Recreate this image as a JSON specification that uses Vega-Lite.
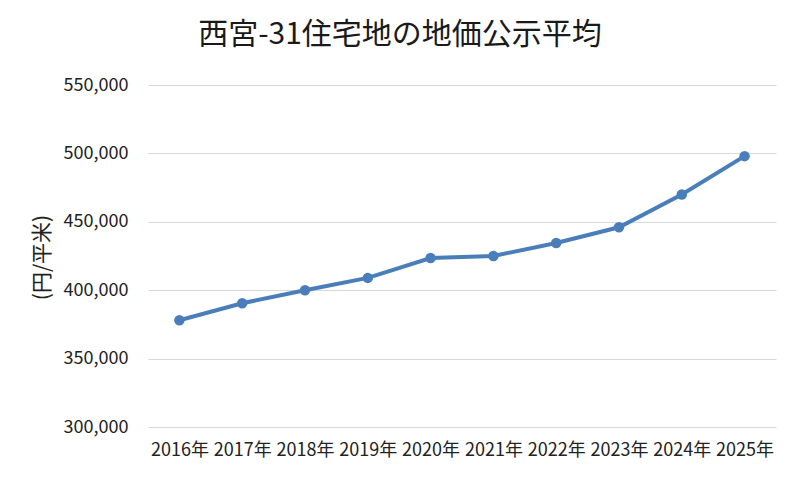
{
  "$schema": "https://vega.github.io/schema/vega-lite/v6.json",
  "width": 628,
  "height": 342,
  "autosize": "none",
  "padding": {"left": 148, "top": 85, "right": 24, "bottom": 54},
  "background": "white",
  "title": {
    "text": "西宮-31住宅地の地価公示平均",
    "fontSize": 30,
    "fontWeight": "normal",
    "font": "Noto Sans CJK JP",
    "color": "#1a1a1a",
    "anchor": "middle",
    "dx": -62,
    "offset": 26
  },
  "data": {
    "values": [
      {"year": "2016年", "price": 378000},
      {"year": "2017年", "price": 390500},
      {"year": "2018年", "price": 400000},
      {"year": "2019年", "price": 409000},
      {"year": "2020年", "price": 423500},
      {"year": "2021年", "price": 425000},
      {"year": "2022年", "price": 434500},
      {"year": "2023年", "price": 446000},
      {"year": "2024年", "price": 470000},
      {"year": "2025年", "price": 498000}
    ]
  },
  "encoding": {
    "x": {
      "field": "year",
      "type": "ordinal",
      "title": null,
      "axis": {
        "labelAngle": 0,
        "domain": false,
        "ticks": false,
        "labelPadding": 14,
        "labelFontSize": 18
      }
    },
    "y": {
      "field": "price",
      "type": "quantitative",
      "title": "(円/平米)",
      "scale": {"domain": [300000, 550000], "nice": false, "zero": false},
      "axis": {
        "values": [300000, 350000, 400000, 450000, 500000, 550000],
        "format": ",.0f",
        "domain": false,
        "ticks": false,
        "labelPadding": 20,
        "labelFontSize": 18,
        "titleFontSize": 21,
        "titleFontWeight": "normal",
        "titleX": -106,
        "titleY": 172,
        "titleBaseline": "middle"
      }
    }
  },
  "layer": [
    {
      "mark": {"type": "line", "color": "#4a7ebb", "strokeWidth": 4}
    },
    {
      "mark": {"type": "point", "filled": true, "color": "#4a7ebb", "size": 110, "opacity": 1}
    }
  ],
  "config": {
    "view": {"stroke": null},
    "font": "Noto Sans CJK JP",
    "axis": {
      "labelFont": "Noto Sans CJK JP",
      "titleFont": "Noto Sans CJK JP",
      "labelColor": "#222222",
      "titleColor": "#222222",
      "gridColor": "#d9d9d9",
      "gridWidth": 1.2
    },
    "axisX": {"grid": false},
    "axisY": {"grid": true}
  }
}
